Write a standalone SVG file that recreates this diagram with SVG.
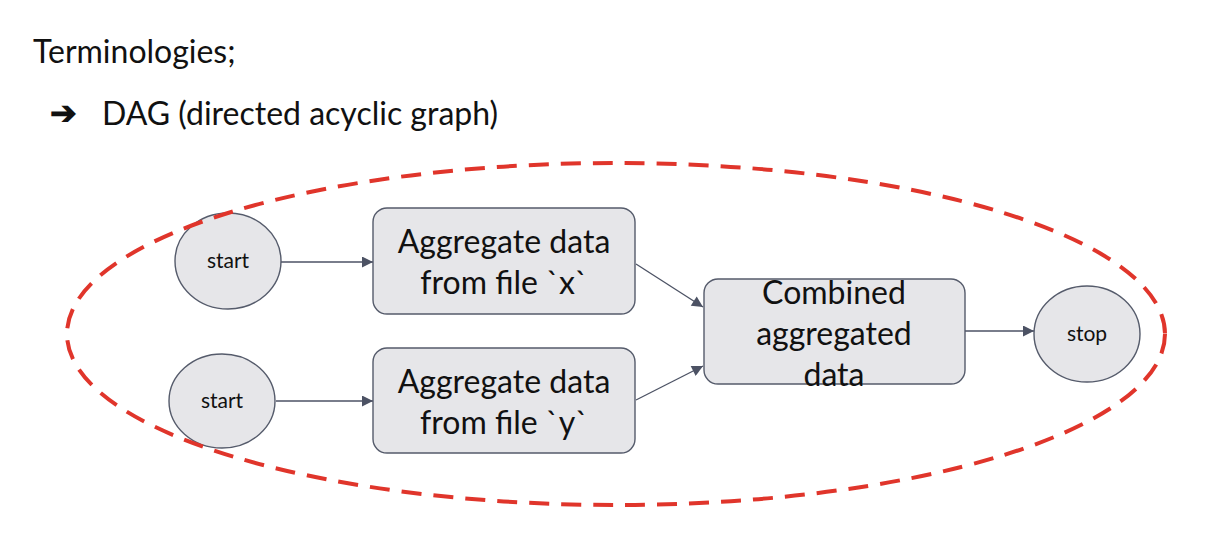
<svg xmlns="http://www.w3.org/2000/svg" width="1208" height="536" viewBox="0 0 1208 536">
<style>
text{font-family:Lato,"Open Sans","Liberation Sans",sans-serif;fill:#111}
.node{fill:#e6e6e9;stroke:#555b6b;stroke-width:1.4}
.big{font-size:32px;text-anchor:middle}
.small{font-size:21px;text-anchor:middle}
.edge{stroke:#4c5264;stroke-width:1.3;fill:none;marker-end:url(#ah)}
</style>
<defs>
<marker id="ah" viewBox="0 0 10 10" refX="10" refY="5" markerWidth="12" markerHeight="11" markerUnits="userSpaceOnUse" orient="auto">
<path d="M0,0 L10,5 L0,10 z" fill="#4c5264"/>
</marker>
</defs>
<rect width="1208" height="536" fill="#fff"/>
<text x="33" y="63" font-size="32">Terminologies;</text>
<text x="50" y="124" font-size="32" font-weight="bold">➔</text>
<text x="102" y="125" font-size="32">DAG (directed acyclic graph)</text>
<g id="connectors">
<line class="edge" x1="281" y1="262" x2="373" y2="262"/>
<line class="edge" x1="276" y1="401" x2="373" y2="401"/>
<line class="edge" x1="636" y1="264" x2="703" y2="307"/>
<line class="edge" x1="636" y1="400" x2="703" y2="366"/>
<line class="edge" x1="965" y1="331" x2="1034" y2="331"/>
</g>
<g id="start1"><ellipse class="node" cx="228" cy="261" rx="53" ry="48"/><text class="small" x="228" y="268">start</text></g>
<g id="start2"><ellipse class="node" cx="222" cy="401" rx="53" ry="47"/><text class="small" x="222" y="408">start</text></g>
<g id="aggx"><rect class="node" x="373" y="208" width="262" height="106" rx="14"/><text class="big" x="504" y="253">Aggregate data</text><text class="big" x="504" y="294">from file `x`</text></g>
<g id="aggy"><rect class="node" x="373" y="348" width="262" height="105" rx="14"/><text class="big" x="504" y="393">Aggregate data</text><text class="big" x="504" y="434">from file `y`</text></g>
<g id="combined"><rect class="node" x="704" y="279" width="261" height="105" rx="14"/><text class="big" x="834" y="304">Combined</text><text class="big" x="834" y="345">aggregated</text><text class="big" x="834" y="386">data</text></g>
<g id="stop"><ellipse class="node" cx="1087" cy="334" rx="53" ry="48"/><text class="small" x="1087" y="341">stop</text></g>
<ellipse id="dag-boundary" cx="616" cy="334" rx="549" ry="171" fill="none" stroke="#e0352b" stroke-width="4" stroke-dasharray="20 12"/>
</svg>
